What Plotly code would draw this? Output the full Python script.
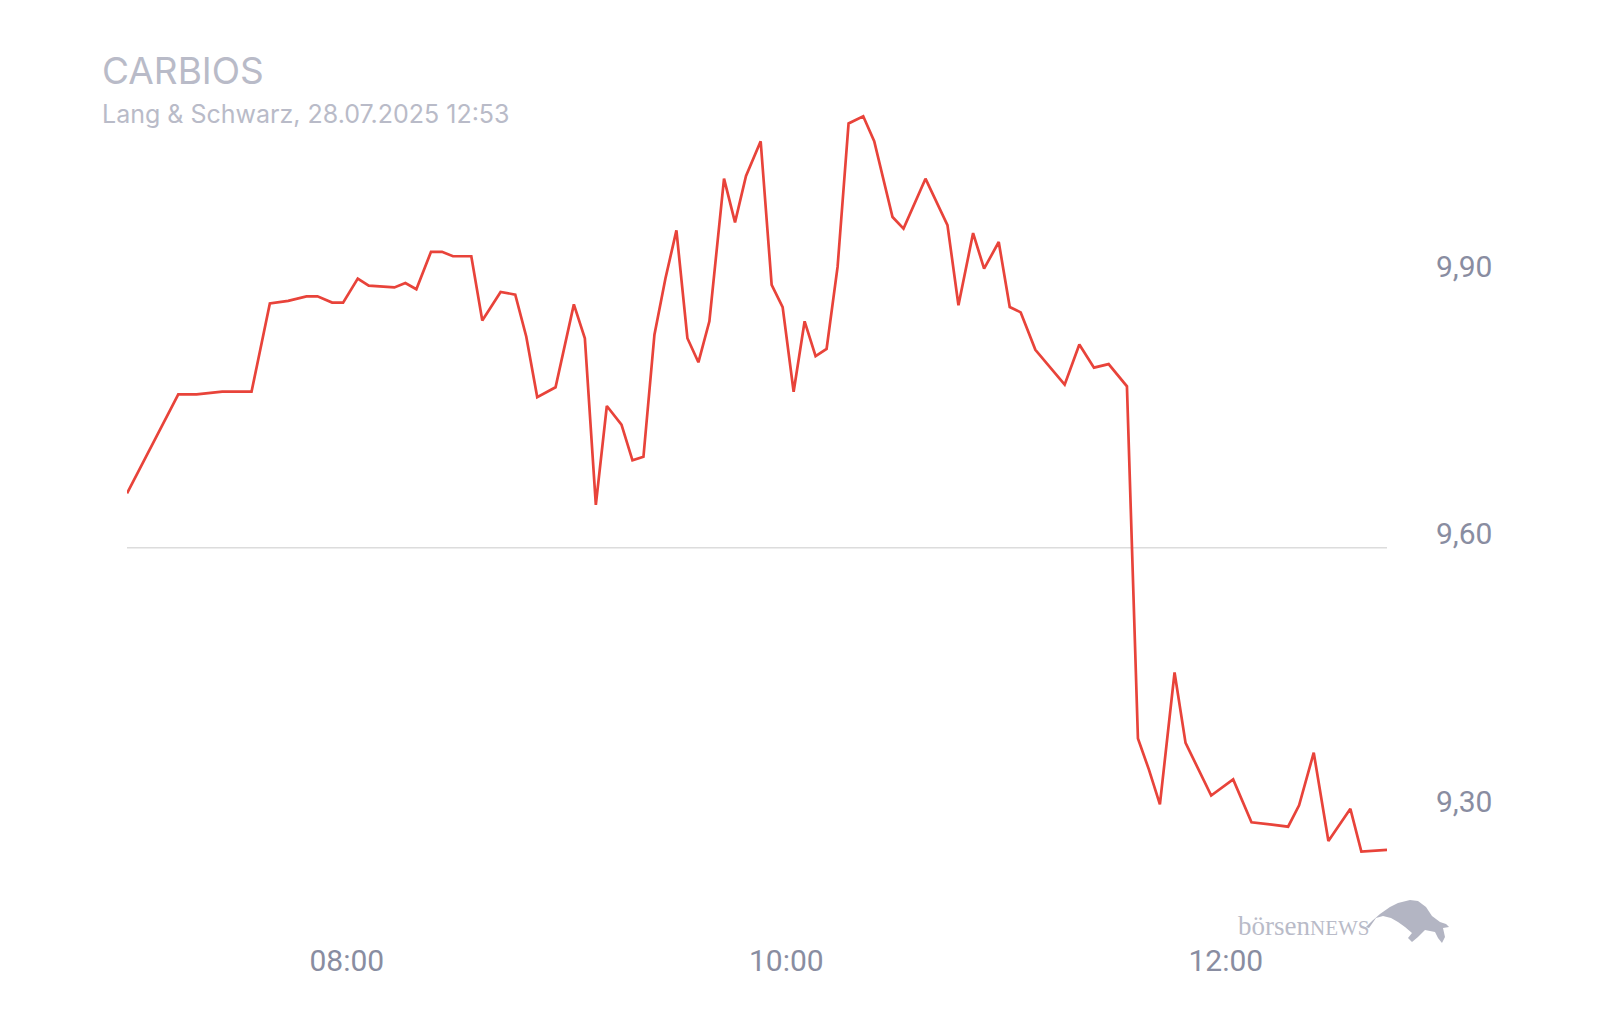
import plotly.graph_objects as go

# ---- data ----
times = ["07:00", "07:14", "07:19", "07:26", "07:34", "07:39", "07:44", "07:49", "07:52", "07:56",
         "07:59", "08:03", "08:06", "08:13", "08:16", "08:19", "08:23", "08:26", "08:29", "08:34",
         "08:37", "08:42", "08:46", "08:49", "08:52", "08:57", "09:02", "09:05", "09:08", "09:11",
         "09:15", "09:18", "09:21", "09:24", "09:27", "09:30", "09:33", "09:36", "09:39", "09:43",
         "09:46", "09:49", "09:53", "09:56", "09:59", "10:02", "10:05", "10:08", "10:11", "10:14",
         "10:17", "10:21", "10:24", "10:29", "10:32", "10:38", "10:44", "10:47", "10:51", "10:54",
         "10:58", "11:01", "11:04", "11:08", "11:16", "11:20", "11:24", "11:28", "11:33", "11:36",
         "11:39", "11:42", "11:46", "11:49", "11:56", "12:02", "12:07", "12:14", "12:17", "12:20",
         "12:24", "12:28", "12:34", "12:37", "12:44"]
prices = [9.661, 9.772, 9.772, 9.775, 9.775, 9.874, 9.877, 9.882, 9.882, 9.875,
          9.875, 9.902, 9.894, 9.892, 9.897, 9.890, 9.932, 9.932, 9.927, 9.927,
          9.855, 9.887, 9.884, 9.837, 9.769, 9.780, 9.873, 9.835, 9.648, 9.759,
          9.738, 9.698, 9.702, 9.839, 9.902, 9.956, 9.835, 9.808, 9.854, 10.014,
          9.965, 10.017, 10.056, 9.895, 9.870, 9.775, 9.854, 9.815, 9.823, 9.915,
          10.076, 10.084, 10.056, 9.971, 9.958, 10.014, 9.962, 9.872, 9.953, 9.913,
          9.943, 9.870, 9.864, 9.822, 9.783, 9.828, 9.802, 9.806, 9.781, 9.386,
          9.351, 9.312, 9.460, 9.381, 9.322, 9.340, 9.292, 9.289, 9.287, 9.311,
          9.370, 9.271, 9.307, 9.259, 9.261]
date = "2025-07-28"
reference_price = 9.60
y_ticks = [9.30, 9.60, 9.90]
y_tick_labels = ["9,30", "9,60", "9,90"]
x_ticks = ["08:00", "10:00", "12:00"]
title = "CARBIOS"
subtitle = "Lang & Schwarz, 28.07.2025 12:53"

x = [f"{date} {t}" for t in times]

# ---- layout geometry ----
W, H = 1600, 1020
ML, MR, MT, MB = 127, 213, 100, 100
PW, PH = W - ML - MR, H - MT - MB

def px(xp):
    return (xp - ML) / PW

def py(yp):
    return (H - MB - yp) / PH

LINE_RED = "#e8433a"
LABEL = "#898da1"
LIGHT = "#b9bbc8"

fig = go.Figure()
fig.add_trace(go.Scatter(x=x, y=prices, mode="lines",
                         line=dict(color=LINE_RED, width=2.7),
                         hoverinfo="skip", showlegend=False))

fig.add_shape(type="line", xref="paper", yref="y", x0=0, x1=1,
              y0=reference_price, y1=reference_price,
              line=dict(color="#dcdcdc", width=1.5), layer="below")

# title / subtitle
fig.add_annotation(text=title, xref="paper", yref="paper", x=px(100), y=py(71),
                   xanchor="left", yanchor="middle", showarrow=False,
                   font=dict(family="Inter", size=37, color=LIGHT))
fig.add_annotation(text=subtitle, xref="paper", yref="paper", x=px(100), y=py(114),
                   xanchor="left", yanchor="middle", showarrow=False,
                   font=dict(family="Inter", size=25, color=LIGHT))

# logo text
fig.add_annotation(text="börsen<span style='font-size:21px'>NEWS</span>",
                   xref="paper", yref="paper", x=px(1236), y=py(926),
                   xanchor="left", yanchor="middle", showarrow=False,
                   font=dict(family="Liberation Serif", size=27, color=LIGHT))

# logo bull silhouette (decorative)
bull = [(1366, 927), (1372, 921), (1380, 914), (1390, 907), (1398, 903), (1410, 900),
        (1418, 901), (1426, 907), (1432, 916), (1440, 922), (1446, 924), (1449, 927),
        (1443, 928), (1445, 937), (1442, 943), (1438, 938), (1435, 932), (1425, 930),
        (1418, 937), (1412, 942), (1408, 938), (1412, 933), (1405, 927), (1398, 922),
        (1391, 918), (1383, 916), (1376, 918), (1369, 928)]
path = "M " + " L ".join(f"{px(a):.5f},{py(b):.5f}" for a, b in bull) + " Z"
fig.add_shape(type="path", xref="paper", yref="paper", path=path,
              fillcolor="#b3b5c3", line=dict(width=0))

fig.update_layout(
    width=W, height=H,
    margin=dict(l=ML, r=MR, t=MT, b=MB),
    paper_bgcolor="white", plot_bgcolor="white",
    font=dict(family="Roboto", color=LABEL),
    xaxis=dict(type="date", range=[x[0], x[-1]],
               tickvals=[f"{date} {t}" for t in x_ticks], ticktext=x_ticks,
               showgrid=False, zeroline=False, showline=False, ticks="",
               tickfont=dict(family="Roboto", size=30, color=LABEL),
               ticklabelstandoff=20),
    yaxis=dict(side="right",
               range=[reference_price - (H - MB - 547.7) / 891.3,
                      reference_price + (547.7 - MT) / 891.3],
               tickvals=y_ticks, ticktext=y_tick_labels,
               ticklabelposition="outside top", ticklabelshift=7,
               showgrid=False, zeroline=False, showline=False, ticks="",
               tickfont=dict(family="Roboto", size=30, color=LABEL),
               ticklabelstandoff=48),
)

fig.write_html("out.html")
